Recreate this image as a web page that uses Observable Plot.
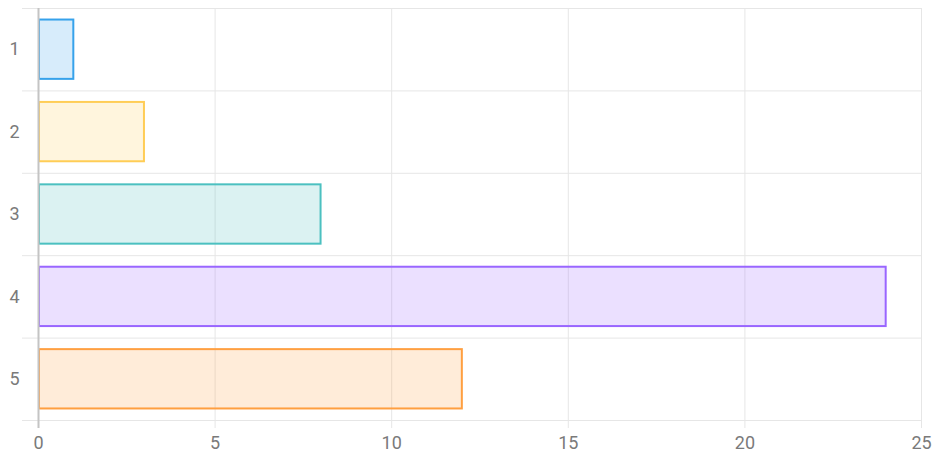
<!DOCTYPE html>
<html>
<head>
<meta charset="utf-8">
<script src="https://cdn.jsdelivr.net/npm/d3@7"></script>
<script src="https://cdn.jsdelivr.net/npm/@observablehq/plot@0.6"></script>
<style>
  html, body { margin: 0; padding: 0; background: #fff; }
  #chart svg { display: block; }
</style>
</head>
<body>
<div id="chart"></div>
<script>
const categories = ["1", "2", "3", "4", "5"];
const values = [1, 3, 8, 24, 12];
const strokeColors = ["rgb(54,162,235)", "rgb(255,205,86)", "rgb(75,192,192)", "rgb(153,102,255)", "rgb(255,159,64)"];
const fillColors = ["rgba(54,162,235,0.2)", "rgba(255,205,86,0.2)", "rgba(75,192,192,0.2)", "rgba(153,102,255,0.2)", "rgba(255,159,64,0.2)"];
const xTicks = [0, 5, 10, 15, 20, 25];

const barFraction = 0.72;
const data = categories.map((c, i) => ({
  cat: c,
  pos: i + 1,
  value: values[i],
  stroke: strokeColors[i],
  fill: fillColors[i]
}));
const boundaries = d3.range(0.5, categories.length + 1, 1);

const chart = Plot.plot({
  width: 936,
  height: 455,
  marginTop: 8,
  marginBottom: 35,
  marginLeft: 38,
  marginRight: 15,
  style: { fontFamily: "Roboto, 'Helvetica Neue', Arial, sans-serif", fontSize: "18px", color: "#7a7a7a", background: "#fff" },
  x: { domain: [0, 25], ticks: xTicks, label: null },
  y: { domain: [0.5, categories.length + 0.5], reverse: true, label: null },
  marks: [
    Plot.ruleX(xTicks, { stroke: "#e6e6e6", strokeWidth: 1, insetBottom: -8 }),
    Plot.ruleY(boundaries, { stroke: "#e6e6e6", strokeWidth: 1, insetLeft: -16 }),
    Plot.rect(data, {
      x1: 0,
      x2: "value",
      y1: d => d.pos - barFraction / 2,
      y2: d => d.pos + barFraction / 2,
      fill: d => d.fill,
      stroke: d => d.stroke,
      strokeWidth: 2,
      insetLeft: 1
    }),
    Plot.ruleX([0], { stroke: "#c4c4c4", strokeWidth: 2, insetBottom: -8 }),
    Plot.axisX({ ticks: xTicks, tickSize: 0, tickPadding: 16, fill: "#7a7a7a", fontSize: 18 }),
    Plot.axisY({ ticks: data.map(d => d.pos), tickFormat: (d) => categories[d - 1], tickSize: 0, tickPadding: 19, fill: "#7a7a7a", fontSize: 18 })
  ]
});
document.getElementById("chart").appendChild(chart);
</script>
</body>
</html>
